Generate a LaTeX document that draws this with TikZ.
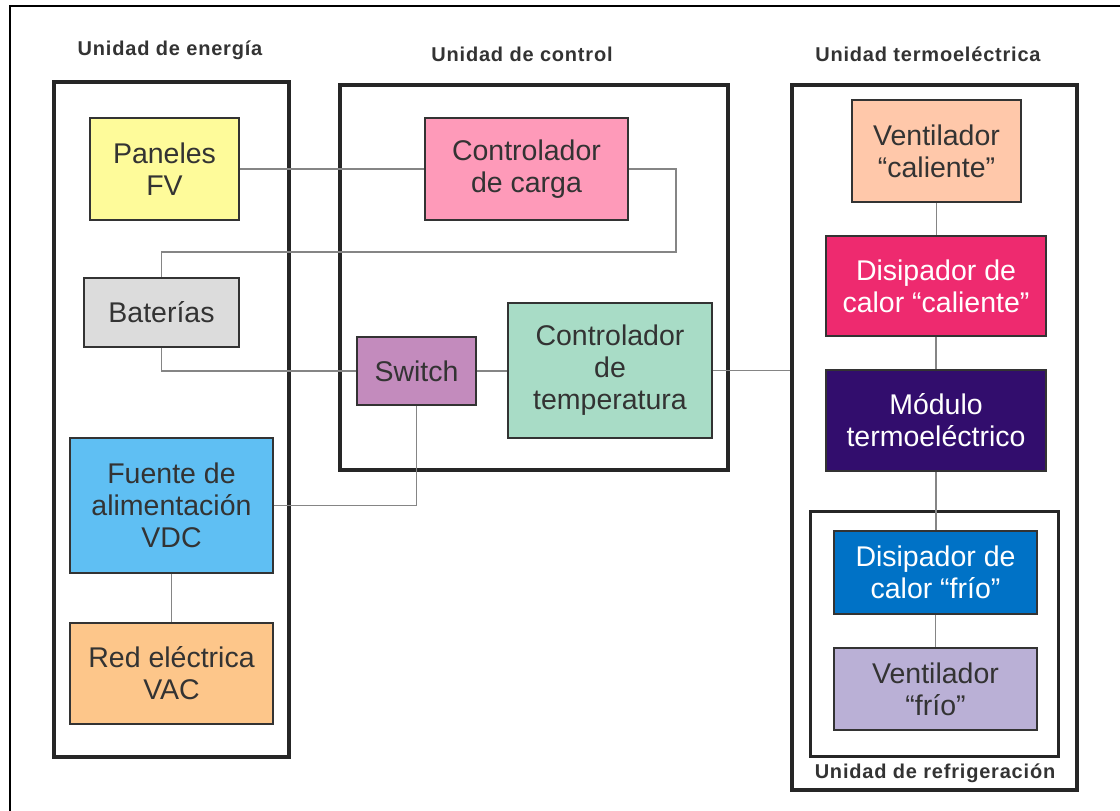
\documentclass[tikz,border=0pt]{standalone}
\usepackage{fontspec}
\setmainfont{Liberation Sans}
\newfontfamily\ttlfont[LetterSpace=4]{Liberation Sans}
\begin{document}
\begin{tikzpicture}[x=1pt,y=-1pt,
  box/.style={draw=black!80, line width=1.5pt, inner sep=0pt, align=center,
    text=black!80, font=\fontsize{28.5}{32}\selectfont},
  wbox/.style={box, text=white},
  cont/.style={draw=black!85, line width=4.5pt, inner sep=0pt},
  ttl/.style={font=\ttlfont\fontsize{20}{22}\selectfont\bfseries, text=black!80, inner sep=0pt},
  wire/.style={draw=black!48, line width=1.4pt}]
\useasboundingbox (0,0) rectangle (1120,811);
\draw[line width=2pt] (10,812) -- (10,6) -- (1121,6);
% containers
\node[cont, minimum width=235pt, minimum height=675pt] (energia) at (171.5,419.5) {};
\node[cont, minimum width=388pt, minimum height=385pt] (control) at (534,277.5) {};
\node[cont, minimum width=285pt, minimum height=705pt] (termo) at (934.5,437.5) {};
\node[cont, line width=3pt, minimum width=248pt, minimum height=245pt] (refrig) at (934,633.5) {};
% titles
\node[ttl] (t1) at (170,50) {Unidad de energía};
\node[ttl] (t2) at (522,54) {Unidad de control};
\node[ttl] (t3) at (928,54) {Unidad termoeléctrica};
\node[ttl] (t4) at (935,773) {Unidad de refrigeración};
% boxes
\node[box, fill={rgb,255:red,254;green,251;blue,154}, minimum width=149pt, minimum height=102pt] (pan) at (164.5,169) {Paneles\\FV};
\node[box, fill={rgb,255:red,220;green,220;blue,220}, minimum width=155pt, minimum height=69pt] (bat) at (161.5,312.5) {Baterías};
\node[box, fill={rgb,255:red,95;green,191;blue,243}, minimum width=203pt, minimum height=135pt] (fuente) at (171.5,505.5) {Fuente de\\alimentación\\VDC};
\node[box, fill={rgb,255:red,253;green,198;blue,138}, minimum width=203pt, minimum height=101pt] (red) at (171.5,673.5) {Red eléctrica\\VAC};
\node[box, fill={rgb,255:red,254;green,154;blue,185}, minimum width=203pt, minimum height=102pt] (carga) at (526.5,169) {Controlador\\de carga};
\node[box, fill={rgb,255:red,195;green,139;blue,189}, minimum width=119pt, minimum height=68pt] (sw) at (416.5,371) {Switch};
\node[box, fill={rgb,255:red,168;green,220;blue,198}, minimum width=204pt, minimum height=135pt] (temp) at (610,370.5) {Controlador\\de\\temperatura};
\node[box, fill={rgb,255:red,255;green,200;blue,170}, minimum width=169pt, minimum height=102pt] (ventc) at (936.5,151) {Ventilador\\“caliente”};
\node[wbox, fill={rgb,255:red,238;green,42;blue,111}, minimum width=220pt, minimum height=100pt] (disc) at (936,286) {Disipador de\\calor “caliente”};
\node[wbox, fill={rgb,255:red,50;green,13;blue,109}, minimum width=220pt, minimum height=101pt] (mod) at (936,420.5) {Módulo\\termoeléctrico};
\node[wbox, fill={rgb,255:red,0;green,114;blue,198}, minimum width=203pt, minimum height=83pt] (disf) at (935.5,572.5) {Disipador de\\calor “frío”};
\node[box, fill={rgb,255:red,186;green,176;blue,214}, minimum width=203pt, minimum height=82pt] (ventf) at (935.5,689) {Ventilador\\“frío”};
% wires
\coordinate (cA) at (676,252);
\path[wire] (pan.east) -- (pan.east -| carga.west);
\path[wire] (carga.east) -| (cA) -| (bat.north);
\path[wire] (bat.south) |- (sw.west);
\path[wire] (sw.east) -- (sw.east -| temp.west);
\path[wire] (temp.east) -- (temp.east -| termo.west);
\path[wire] (sw.south) |- (fuente.east);
\path[wire] (fuente.south) -- (fuente.south |- red.north);
\path[wire] (ventc.south) -- (ventc.south |- disc.north);
\path[wire] (disc.south) -- (disc.south |- mod.north);
\path[wire] (mod.south) -- (mod.south |- disf.north);
\path[wire] (disf.south) -- (disf.south |- ventf.north);
\end{tikzpicture}
\end{document}
